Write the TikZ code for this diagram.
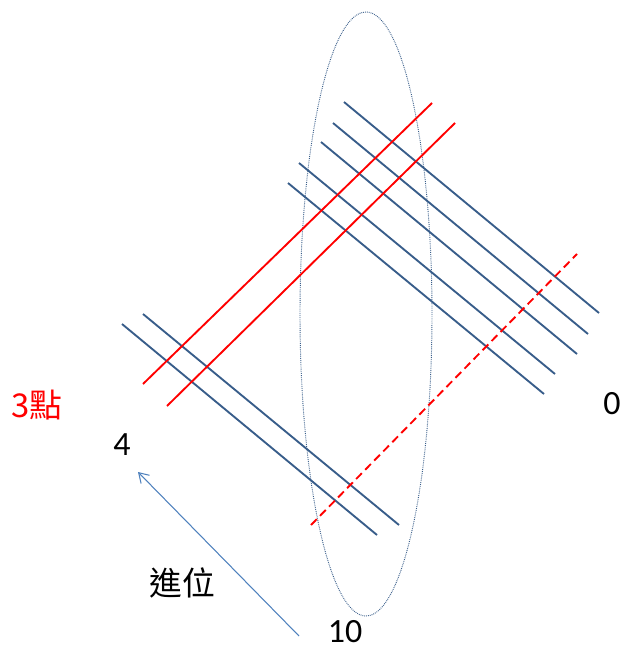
\documentclass[tikz,border=0pt]{standalone}
\usepackage{fontspec}
\setmainfont{Carlito}
\newfontfamily\cjk{Noto Sans CJK TC}
\usepackage{tikz}
\usetikzlibrary{arrows.meta}
\definecolor{lineblue}{HTML}{385D8A}
\definecolor{arrowblue}{HTML}{4F81BD}

\begin{document}
\begin{tikzpicture}[x=0.03cm, y=-0.03cm,
        bline/.style={draw=lineblue, line width=1.6pt},
        rline/.style={draw=red, line width=1.6pt},
        rdash/.style={draw=red, line width=1.6pt, dash pattern=on 7pt off 4pt},
        ring/.style={draw=lineblue, line width=0.8pt, dash pattern=on 0.7pt off 0.9pt},
        carry/.style={draw=arrowblue, line width=0.9pt, -{Straight Barb[length=8pt, width=10pt]}},
        num/.style={inner sep=0pt, font=\fontsize{29}{32}\selectfont},
        zh/.style={inner sep=0pt, font=\cjk\fontsize{28}{30}\selectfont}
    ]
        \useasboundingbox (0,0) rectangle (627,651);

        % ellipse
        \draw[ring] (366,314) ellipse [x radius=66, y radius=302];

        % upper group
        \draw[bline] (344,102) -- (599,313);
        \draw[bline] (333,123) -- (588,334);
        \draw[bline] (321,142) -- (577,354);
        \draw[bline] (299,163) -- (555,374);
        \draw[bline] (288,183) -- (544,394);

        % lower group
        \draw[bline] (143,314) -- (399,525);
        \draw[bline] (122,324) -- (377,535);

        % red lines
        \draw[rline] (143,384) -- (432,103);
        \draw[rline] (167,406) -- (455,123);
        \draw[rdash] (311,525) -- (577,254);

        % labels
        \node[zh, text=red] (three) at (37,405) {3點};
        \node[num] (four) at (122,445) {4};
        \node[num] (zero) at (612,404) {0};
        \node[num] (ten) at (345,632) {10};
        \node[zh] (jinwei) at (182,583) {進位};

        % carry arrow
        \coordinate (tail) at (299,636);
        \coordinate (head) at (138,472);
        \draw[carry] (tail) -- (head);
    \end{tikzpicture}
\end{document}
